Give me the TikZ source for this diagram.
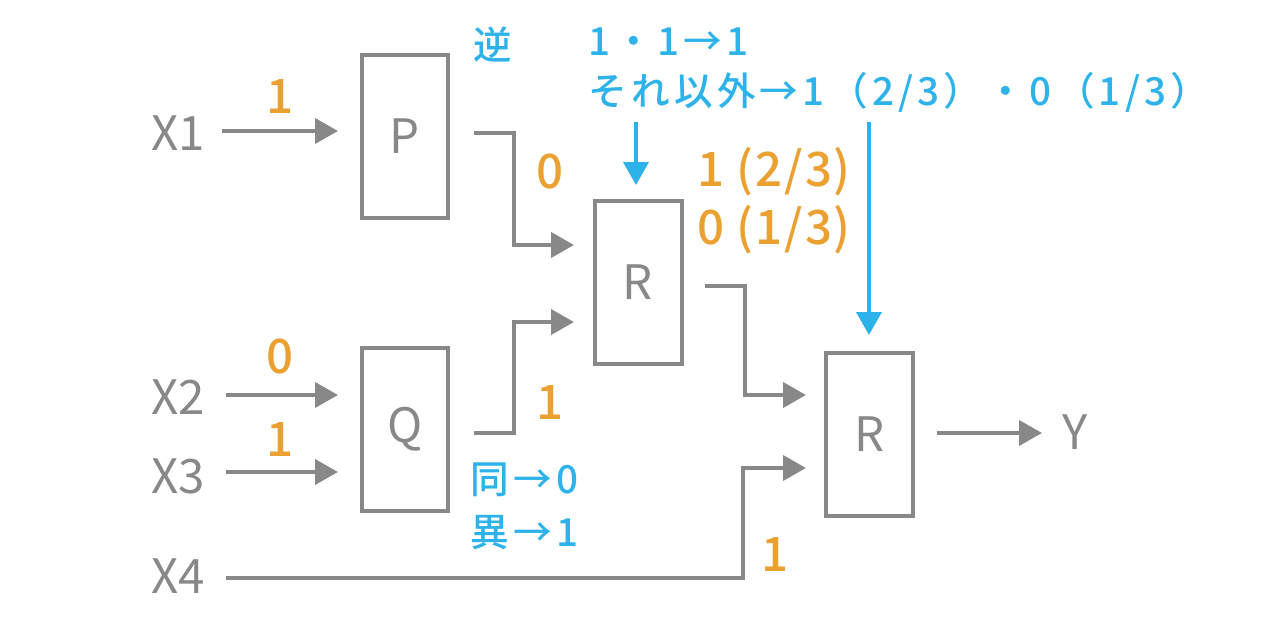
\documentclass[tikz,border=0pt]{standalone}
\usepackage{fontspec}
\setmainfont{Noto Sans CJK JP}
\newfontfamily\valuefont{Noto Sans CJK JP}[UprightFont=* Medium, LetterSpace=4]
\newfontfamily\notefont{Noto Sans CJK JP}[UprightFont=* Medium, LetterSpace=11]
\usetikzlibrary{arrows.meta,positioning}
\definecolor{lineGray}{HTML}{888888}
\definecolor{valOrange}{HTML}{EBA032}
\definecolor{noteBlue}{HTML}{2DB3EA}
\tikzset{
  gate/.style={draw=lineGray, line width=0.08cm, minimum width=1.74cm,
    minimum height=3.26cm, inner sep=0pt, text=lineGray,
    font=\fontsize{27}{30}\selectfont},
  signal/.style={text=lineGray, inner sep=0pt, font=\fontsize{27}{30}\selectfont},
  value/.style={text=valOrange, inner sep=0pt, font=\valuefont\fontsize{27}{30}\selectfont},
  note/.style={text=noteBlue, inner sep=0pt, font=\notefont\fontsize{22}{26}\selectfont},
  wire/.style={lineGray, line width=0.08cm, -{Triangle[length=0.46cm,width=0.5cm]}},
  rule/.style={noteBlue, line width=0.08cm, -{Triangle[length=0.46cm,width=0.5cm]}},
}
\begin{document}
\begin{tikzpicture}[x=0.02cm, y=-0.02cm]
  \useasboundingbox (0,0) rectangle (1274,628);
  % gates
  \node (P)  [gate] at (405,136.5) {P};
  \node (Q)  [gate] at (405,429.5) {Q};
  \node (R1) [gate] at (638,282.5) {R};
  \node (R2) [gate] at (869.5,434.5) {R};
  % inputs and output
  \node (X1) [signal] at (178,133) {X1};
  \node (X2) [signal] at (178,397) {X2};
  \node (X3) [signal] at (178,476) {X3};
  \node (X4) [signal] at (178,576) {X4};
  \node (Y)  [signal] at (1075,432) {Y};
  % wire end points
  \coordinate (inP)   at (338,131);
  \coordinate (inQa)  at (338,395);
  \coordinate (inQb)  at (338,472);
  \coordinate (inR1a) at (574,245);
  \coordinate (inR1b) at (574,322);
  \coordinate (inR2a) at (806,395);
  \coordinate (inR2b) at (806,468);
  \coordinate (outY)  at (1042,433);
  \draw[wire] (X1.east |- inP) ++(17,0) -- (inP);
  \draw[wire] (X2.east |- inQa) ++(21,0) -- (inQa);
  \draw[wire] (X3.east |- inQb) ++(21,0) -- (inQb);
  \draw[wire] (P.east) ++(24,-3) -| (514,245) -- (inR1a);
  \draw[wire] (Q.east) ++(24,3.5) -| (514,322) -- (inR1b);
  \draw[wire] (R1.east) ++(21,3.5) -| (745,395) -- (inR2a);
  \draw[wire] (X4.east |- 0,578) ++(21,0) -| (743,468) -- (inR2b);
  \draw[wire] (R2.east) ++(22,-1.5) -- (outY);
  % values on the wires
  \node (v1) [value] at (280,97)  {1};
  \node (v2) [value] at (280,357) {0};
  \node (v3) [value] at (280,440) {1};
  \node (v4) [value] at (550,172) {0};
  \node (v5) [value] at (550,403) {1};
  \node (v6) [value] at (775,555) {1};
  \node (v7) [value, anchor=west] at (697,172) {1 (2/3)};
  \node (v8) [value, anchor=west] at (697,230) {0 (1/3)};
  % gate rules
  \node (notP)  [note] at (493,45) {逆};
  \node (ruleR) [note, anchor=west] at (588,42) {1・1→1};
  \node (restR) [note, anchor=west] at (588,92) {それ以外→1（2/3）・0（1/3）};
  \node (sameQ) [note, anchor=west] at (470,480) {同→0};
  \node (diffQ) [note, anchor=west] at (470,533) {異→1};
  \draw[rule] (636,122) -- (636,185);
  \draw[rule] (869,122) -- (869,335);
\end{tikzpicture}
\end{document}
